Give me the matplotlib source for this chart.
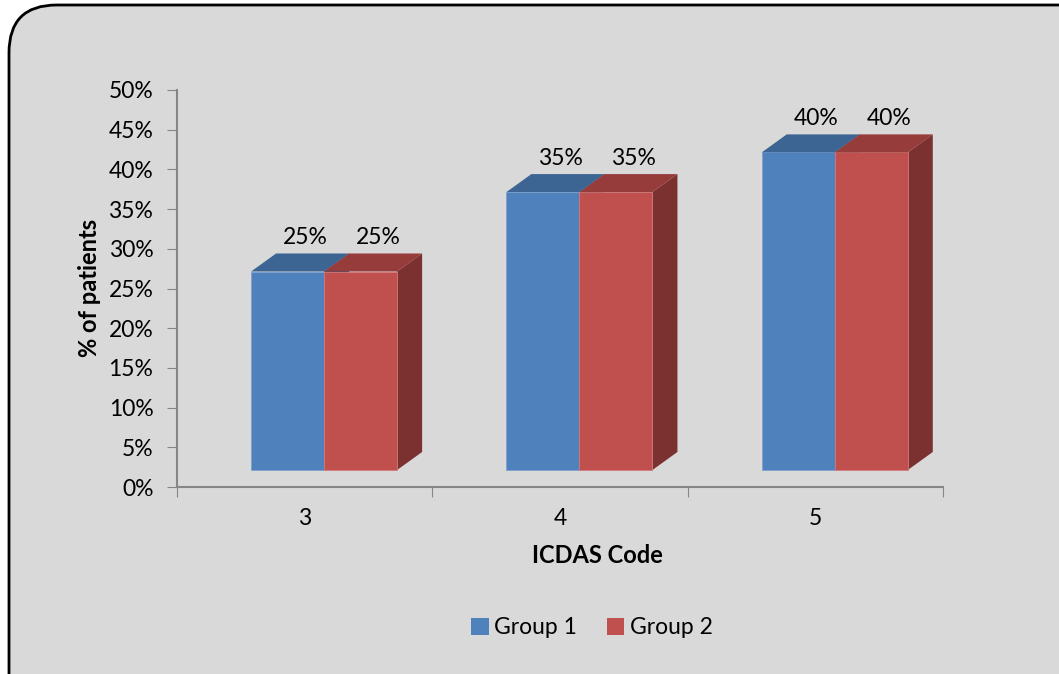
import numpy as np
import matplotlib.pyplot as plt
from matplotlib.patches import Polygon, FancyBboxPatch, Patch

categories = ["3", "4", "5"]
group1 = [25, 35, 40]
group2 = [25, 35, 40]
series_names = ["Group 1", "Group 2"]
y_ticks = [0, 5, 10, 15, 20, 25, 30, 35, 40, 45, 50]

front_cols = ["#4f81bd", "#c0504d"]
top_cols = ["#3d6594", "#963c3a"]
side_cols = ["#36597f", "#7b3130"]
edge_cols = ["#7ea1cf", "#d27a78"]

plt.rcParams['font.family'] = ['Lato', 'DejaVu Sans']
FS = 16.5

fig = plt.figure(figsize=(10.59, 6.74), dpi=100)
fig.patch.set_facecolor("white")

# rounded chart frame
frame = FancyBboxPatch((9 / 1059, -0.3), 1.2, 1.3 - 5 / 674, transform=fig.transFigure,
                       boxstyle="round,pad=0,rounding_size=0.045",
                       facecolor="#d9d9d9", edgecolor="black", linewidth=2,
                       mutation_aspect=1059 / 674, zorder=-1)
fig.patches.append(frame)

ax = fig.add_axes([177 / 1059, 1 - 487 / 674, 766 / 1059, 397 / 674])
ax.set_facecolor("none")
ax.set_xlim(0, 3)
ax.set_ylim(0, 50)

base = 2.14     # floor height of the 3D box
bw = 0.286      # bar width
dx, dy = 0.098, 2.27  # depth offset

for i, vals in enumerate(zip(group1, group2)):
    x0 = i + 0.5 - 0.21
    for s, v in enumerate(vals):
        xl = x0 + s * bw
        xr = xl + bw
        yt = base + v
        side = Polygon([(xr, base), (xr + dx, base + dy), (xr + dx, yt + dy), (xr, yt)],
                       closed=True, facecolor=side_cols[s], edgecolor="none", zorder=2 + s)
        front = Polygon([(xl, base), (xr, base), (xr, yt), (xl, yt)], closed=True,
                        facecolor=front_cols[s], edgecolor=edge_cols[s], linewidth=0.6, zorder=2 + s)
        top = Polygon([(xl, yt), (xr, yt), (xr + dx, yt + dy), (xl + dx, yt + dy)], closed=True,
                      facecolor=top_cols[s], edgecolor="none", zorder=2 + s)
        for p in (side, front, top):
            ax.add_patch(p)
        ax.text((xl + xr) / 2 + dx * 0.5 + 0.02, yt + dy + 2.0, f"{v}%", ha="center", va="center",
                fontsize=FS, color="black")

ax.set_yticks(y_ticks)
ax.set_yticklabels([f"{t}%" for t in y_ticks], fontsize=FS)
ax.set_xticks([0, 1, 2, 3])
ax.set_xticklabels([])
ax.set_xticks([0.5, 1.5, 2.5], minor=True)
ax.set_xticklabels(categories, minor=True, fontsize=FS)
ax.tick_params(axis="x", which="minor", length=0, pad=15)
ax.tick_params(axis="x", which="major", length=7, color="#868686", direction="out")
ax.tick_params(axis="y", length=7, color="#868686", direction="out", pad=10)

for sp in ["top", "right"]:
    ax.spines[sp].set_visible(False)
for sp in ["left", "bottom"]:
    ax.spines[sp].set_color("#868686")
    ax.spines[sp].set_linewidth(1.5)

ax.set_xlabel("ICDAS Code", fontsize=FS + 0.5, fontweight="bold")
ax.xaxis.set_label_coords((597 - 177) / 766, -(544 - 487) / 397)
ax.set_ylabel("% of patients", fontsize=FS + 0.5, fontweight="bold")
ax.yaxis.set_label_coords(-(177 - 101) / 766, (487 - 288) / 397)

handles = [Patch(facecolor=c, edgecolor="none") for c in front_cols]
fig.legend(handles, series_names, loc="center", bbox_to_anchor=(592 / 1059, 1 - 628 / 674),
           ncol=2, frameon=False, fontsize=FS, handlelength=0.75, handleheight=0.75,
           handletextpad=0.25, columnspacing=1.3)

fig.savefig("out.png", dpi=100)
